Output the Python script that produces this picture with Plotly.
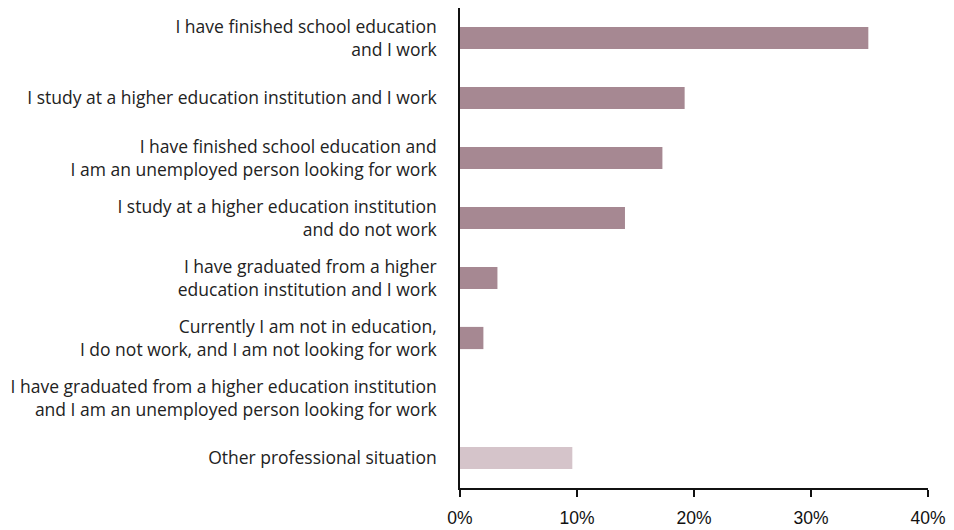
import plotly.graph_objects as go

categories = [
    "I have finished school education<br>and I work",
    "I study at a higher education institution and I work",
    "I have finished school education and<br>I am an unemployed person looking for work",
    "I study at a higher education institution<br>and do not work",
    "I have graduated from a higher<br>education institution and I work",
    "Currently I am not in education,<br>I do not work, and I am not looking for work",
    "I have graduated from a higher education institution<br>and I am an unemployed person looking for work",
    "Other professional situation",
]
values = [34.9, 19.2, 17.3, 14.1, 3.2, 2.0, 0.0, 9.6]
bar_colors = ["#A68892"] * 7 + ["#D5C4CA"]
tick_vals = [0, 10, 20, 30, 40]
tick_text = ["0%", "10%", "20%", "30%", "40%"]

fig = go.Figure(
    go.Bar(
        x=values,
        y=categories,
        orientation="h",
        marker=dict(color=bar_colors, line=dict(width=0)),
        width=0.37,
        hoverinfo="skip",
    )
)

# page body adds an 8px offset; compensate in size/margins
fig.update_layout(
    width=946,
    height=522,
    margin=dict(l=452, r=26, t=0, b=42),
    paper_bgcolor="white",
    plot_bgcolor="white",
    showlegend=False,
    font=dict(family="Open Sans, sans-serif", size=17.5, color="#222222"),
)

fig.update_xaxes(
    range=[0, 40],
    tickvals=tick_vals,
    ticktext=tick_text,
    showgrid=False,
    zeroline=False,
    showline=True,
    linecolor="#111111",
    linewidth=1.5,
    ticks="outside",
    ticklen=7,
    tickwidth=1.5,
    tickcolor="#111111",
    ticklabelstandoff=6,
    tickfont=dict(family="Liberation Sans, Arial, sans-serif", size=17.5, color="#111111"),
    fixedrange=True,
)

fig.update_yaxes(
    autorange="reversed",
    showgrid=False,
    zeroline=False,
    showline=True,
    linecolor="#111111",
    linewidth=1.5,
    ticks="",
    ticklabelstandoff=18,
    tickfont=dict(size=17.5, color="#222222"),
    fixedrange=True,
)

fig.write_html("out.html")
